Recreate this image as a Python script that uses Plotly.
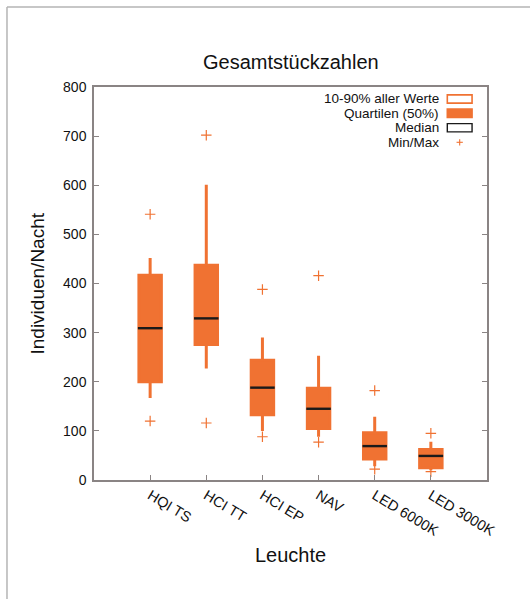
import plotly.graph_objects as go

categories = ["HQI TS", "HCI TT", "HCI EP", "NAV", "LED 6000K", "LED 3000K"]
p10 = [167, 227, 100, 88, 28, 20]
q1 = [200, 276, 133, 105, 43, 25]
median = [309, 329, 188, 145, 69, 49]
q3 = [417, 437, 244, 187, 96, 62]
p90 = [452, 601, 290, 253, 129, 78]
vmin = [120, 116, 88, 77, 22, 17]
vmax = [541, 702, 388, 416, 182, 95]
y_ticks = [0, 100, 200, 300, 400, 500, 600, 700, 800]

ORANGE = "#F07232"
AXIS = "#8a8484"
FONT = "Liberation Sans, Arial, sans-serif"

fig = go.Figure()

fig.add_trace(go.Box(
    x=categories, q1=q1, median=median, q3=q3,
    lowerfence=p10, upperfence=p90,
    fillcolor=ORANGE, line=dict(color=ORANGE, width=3),
    whiskerwidth=0, width=0.4, boxpoints=False,
    showlegend=False, hoverinfo="skip",
))

fig.add_trace(go.Scatter(
    x=categories, y=median, mode="markers",
    marker=dict(symbol="line-ew", size=17.5,
                line=dict(color="#1a1a1a", width=2.4)),
    showlegend=False, hoverinfo="skip",
))

fig.add_trace(go.Scatter(
    x=categories + categories, y=vmin + vmax, mode="markers",
    marker=dict(symbol="cross-thin", size=7.5,
                line=dict(color=ORANGE, width=1.2)),
    showlegend=False, hoverinfo="skip",
))

# legend (gnuplot style: text right-aligned, sample to the right)
legend_items = ["10-90% aller Werte", "Quartilen (50%)", "Median", "Min/Max"]
legend_y = [0.9695, 0.9331, 0.8964, 0.8593]
shapes = []
annotations = []
for label, ly in zip(legend_items, legend_y):
    annotations.append(dict(
        x=0.883, y=ly, xref="paper", yref="paper", text=label,
        showarrow=False, xanchor="right", yanchor="middle",
        font=dict(family=FONT, size=13.5, color="#111")))
hh = 0.0105
shapes.append(dict(type="rect", xref="paper", yref="paper",
                   x0=0.899, x1=0.962, y0=legend_y[0] - hh, y1=legend_y[0] + hh,
                   line=dict(color=ORANGE, width=1.6), fillcolor="white"))
shapes.append(dict(type="rect", xref="paper", yref="paper",
                   x0=0.899, x1=0.962, y0=legend_y[1] - hh, y1=legend_y[1] + hh,
                   line=dict(color=ORANGE, width=1.6), fillcolor=ORANGE))
shapes.append(dict(type="rect", xref="paper", yref="paper",
                   x0=0.899, x1=0.962, y0=legend_y[2] - hh, y1=legend_y[2] + hh,
                   line=dict(color="#1a1a1a", width=1.4), fillcolor="white"))
pc_x, pc_y = 0.9305, legend_y[3]
shapes.append(dict(type="line", xref="paper", yref="paper",
                   x0=pc_x - 0.008, x1=pc_x + 0.008, y0=pc_y, y1=pc_y,
                   line=dict(color=ORANGE, width=1.1)))
shapes.append(dict(type="line", xref="paper", yref="paper",
                   x0=pc_x, x1=pc_x, y0=pc_y - 0.008, y1=pc_y + 0.008,
                   line=dict(color=ORANGE, width=1.1)))

# outer frame (top and left edges)
shapes.append(dict(type="line", xref="paper", yref="paper",
                   x0=-0.2214, x1=1.12, y0=1.2036, y1=1.2036,
                   line=dict(color="#b5b5b5", width=1.5)))
shapes.append(dict(type="line", xref="paper", yref="paper",
                   x0=-0.2214, x1=-0.2214, y0=1.2036, y1=-0.31,
                   line=dict(color="#b5b5b5", width=1.5)))

# titles
annotations.append(dict(x=0.5, y=1.064, xref="paper", yref="paper",
                        text="Gesamtstückzahlen", showarrow=False,
                        xanchor="center", yanchor="middle",
                        font=dict(family=FONT, size=20, color="#111")))
annotations.append(dict(x=0.5, y=-0.191, xref="paper", yref="paper",
                        text="Leuchte", showarrow=False,
                        xanchor="center", yanchor="middle",
                        font=dict(family=FONT, size=20, color="#111")))
annotations.append(dict(x=-0.145, y=0.5, xref="paper", yref="paper",
                        text="Individuen/Nacht", showarrow=False, textangle=-90,
                        xanchor="center", yanchor="middle",
                        font=dict(family=FONT, size=19, color="#111")))

fig.update_layout(
    width=530, height=599,
    margin=dict(l=94, r=43, t=87, b=119),
    paper_bgcolor="white", plot_bgcolor="white",
    font=dict(family=FONT, size=14, color="#111"),
    shapes=shapes, annotations=annotations,
    xaxis=dict(
        type="category", range=[-1, 6], categoryorder="array",
        categoryarray=categories,
        showline=True, linecolor=AXIS, linewidth=1.5, mirror=True,
        ticks="inside", ticklen=5, tickcolor=AXIS, tickwidth=1,
        tickangle=31, showgrid=False, zeroline=False,
        tickfont=dict(family=FONT, size=14.5, color="#111"),
    ),
    yaxis=dict(
        range=[0, 800], tickvals=y_ticks, ticktext=[str(v) for v in y_ticks],
        showline=True, linecolor=AXIS, linewidth=1.5, mirror="ticks",
        ticks="inside", ticklen=5, tickcolor=AXIS, tickwidth=1,
        showgrid=False, zeroline=False, ticklabelstandoff=3,
        tickfont=dict(family=FONT, size=14, color="#111"),
    ),
)

fig.write_html("out.html")
